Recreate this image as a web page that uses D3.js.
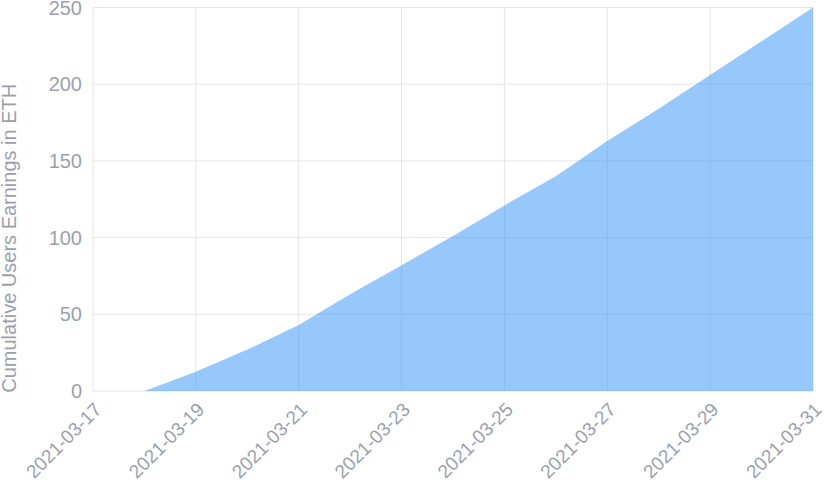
<!DOCTYPE html>
<html>
<head>
<meta charset="utf-8">
<script src="https://cdn.jsdelivr.net/npm/d3@7"></script>
<style>
  html, body { margin: 0; padding: 0; background: #fff; }
  text { font-family: "Liberation Sans", Arial, sans-serif; fill: #9a9fae; }
</style>
</head>
<body>
<div id="chart"></div>
<script>
// Daily cumulative earnings
const dates = ['2021-03-17', '2021-03-18', '2021-03-19', '2021-03-20', '2021-03-21',
  '2021-03-22', '2021-03-23', '2021-03-24', '2021-03-25', '2021-03-26',
  '2021-03-27', '2021-03-28', '2021-03-29', '2021-03-30', '2021-03-31'];
const earnings = [0, 0, 12.5, 27, 43, 63, 82, 101, 121, 140, 163, 184, 206, 228, 250];

const yTicks = [0, 50, 100, 150, 200, 250];
const xTickLabels = ['2021-03-17', '2021-03-19', '2021-03-21', '2021-03-23',
  '2021-03-25', '2021-03-27', '2021-03-29', '2021-03-31'];
const yTitle = 'Cumulative Users Earnings in ETH';

const width = 825, height = 487;
const margin = { top: 7.5, right: 12, bottom: 96, left: 93 };

const parse = d3.timeParse('%Y-%m-%d');
const data = dates.map((d, i) => ({ date: parse(d), value: earnings[i] }));

const svg = d3.select('#chart').append('svg')
  .attr('width', width)
  .attr('height', height);

const x = d3.scaleTime()
  .domain(d3.extent(data, d => d.date))
  .range([margin.left, width - margin.right]);

const y = d3.scaleLinear()
  .domain([0, 250])
  .range([height - margin.bottom, margin.top]);

// Grid
const grid = svg.append('g').attr('class', 'grid');
grid.selectAll('line.h')
  .data(yTicks)
  .join('line')
  .attr('class', 'h')
  .attr('x1', x.range()[0]).attr('x2', x.range()[1])
  .attr('y1', d => y(d)).attr('y2', d => y(d))
  .attr('stroke', '#e5e5e5').attr('stroke-width', 1);

grid.selectAll('line.v')
  .data(xTickLabels.map(parse))
  .join('line')
  .attr('class', 'v')
  .attr('x1', d => x(d)).attr('x2', d => x(d))
  .attr('y1', y.range()[0]).attr('y2', y.range()[1])
  .attr('stroke', '#e5e5e5').attr('stroke-width', 1);

// Area
const area = d3.area()
  .x(d => x(d.date))
  .y0(y(0))
  .y1(d => y(d.value));

svg.append('path')
  .datum(data)
  .attr('d', area)
  .attr('fill', 'rgb(46,146,250)')
  .attr('fill-opacity', 0.5);

// Y axis labels
svg.append('g')
  .selectAll('text')
  .data(yTicks)
  .join('text')
  .attr('x', margin.left - 11)
  .attr('y', d => y(d))
  .attr('dy', '0.35em')
  .attr('text-anchor', 'end')
  .style('font-size', '20px')
  .text(d => d);

// X axis labels
svg.append('g')
  .selectAll('text')
  .data(xTickLabels)
  .join('text')
  .attr('transform', d => `translate(${x(parse(d)) + 5},${y(0) + 15}) rotate(-45)`)
  .attr('dy', '0.35em')
  .attr('text-anchor', 'end')
  .style('font-size', '19px')
  .text(d => d);

// Y axis title
svg.append('text')
  .attr('transform', `translate(9,${(y(0) + y(250)) / 2 + 39}) rotate(-90)`)
  .attr('dy', '0.35em')
  .attr('text-anchor', 'middle')
  .style('font-size', '20px')
  .text(yTitle);
</script>
</body>
</html>
